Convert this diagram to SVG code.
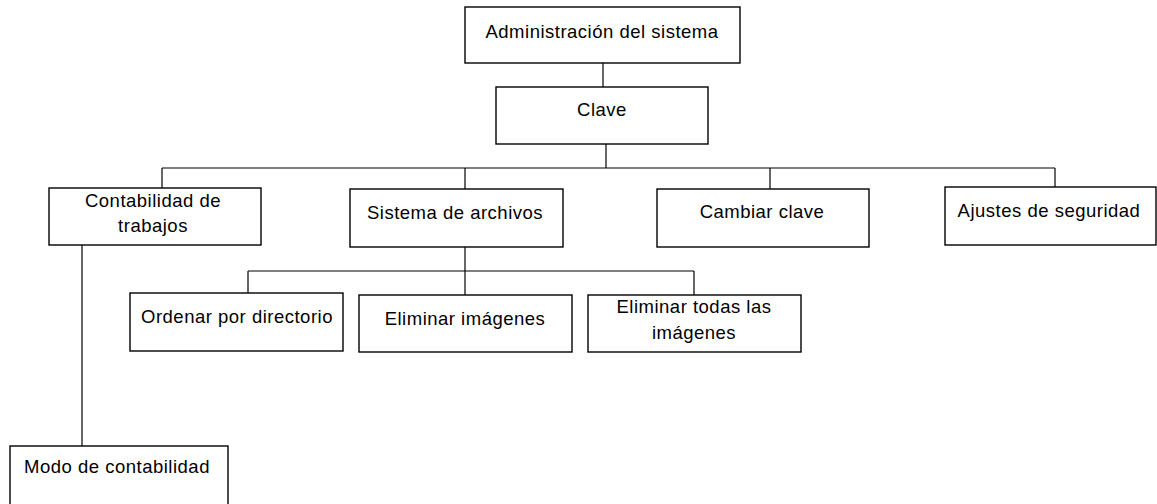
<svg xmlns="http://www.w3.org/2000/svg" width="1157" height="504" viewBox="0 0 1157 504">
<style>
rect{fill:#fff;stroke:#000;stroke-width:1.4}
.c line{stroke:#000;stroke-width:1.2}
text{font-family:"Liberation Sans",Arial,sans-serif;font-size:18.5px;letter-spacing:0.5px;fill:#000;text-anchor:middle}
</style>
<rect x="0" y="0" width="1157" height="504" style="stroke:none"/>
<g class="c" id="connectors">
<line x1="603" y1="63" x2="603" y2="87"/>
<line x1="606" y1="144" x2="606" y2="168"/>
<line x1="162" y1="168" x2="1055" y2="168"/>
<line x1="162" y1="168" x2="162" y2="188"/>
<line x1="465" y1="168" x2="465" y2="189"/>
<line x1="770" y1="168" x2="770" y2="189"/>
<line x1="1055" y1="168" x2="1055" y2="187"/>
<line x1="465" y1="247" x2="465" y2="271"/>
<line x1="248" y1="271" x2="694" y2="271"/>
<line x1="248" y1="271" x2="248" y2="293"/>
<line x1="465" y1="271" x2="465" y2="295"/>
<line x1="694" y1="271" x2="694" y2="295"/>
<line x1="82" y1="245" x2="82" y2="446"/>
</g>
<g id="admin"><rect x="465" y="7" width="275" height="56"/><text x="602" y="38">Administración del sistema</text></g>
<g id="clave"><rect x="496" y="87" width="212" height="57"/><text x="602" y="116">Clave</text></g>
<g id="contabilidad"><rect x="49" y="188" width="212" height="57"/><text x="153" y="207">Contabilidad de</text><text x="153" y="232">trabajos</text></g>
<g id="sistema"><rect x="350" y="189" width="213" height="58"/><text x="455" y="219">Sistema de archivos</text></g>
<g id="cambiar"><rect x="657" y="189" width="212" height="58"/><text x="762" y="218">Cambiar clave</text></g>
<g id="ajustes"><rect x="945" y="187" width="211" height="58"/><text x="1049" y="217">Ajustes de seguridad</text></g>
<g id="ordenar"><rect x="130" y="293" width="213" height="58"/><text x="237" y="323">Ordenar por directorio</text></g>
<g id="eliminar"><rect x="359" y="295" width="213" height="57"/><text x="465" y="325">Eliminar imágenes</text></g>
<g id="eliminar-todas"><rect x="588" y="295" width="213" height="57"/><text x="694" y="313">Eliminar todas las</text><text x="694" y="339">imágenes</text></g>
<g id="modo"><rect x="10" y="446" width="218" height="62"/><text x="117" y="473">Modo de contabilidad</text></g>
</svg>
